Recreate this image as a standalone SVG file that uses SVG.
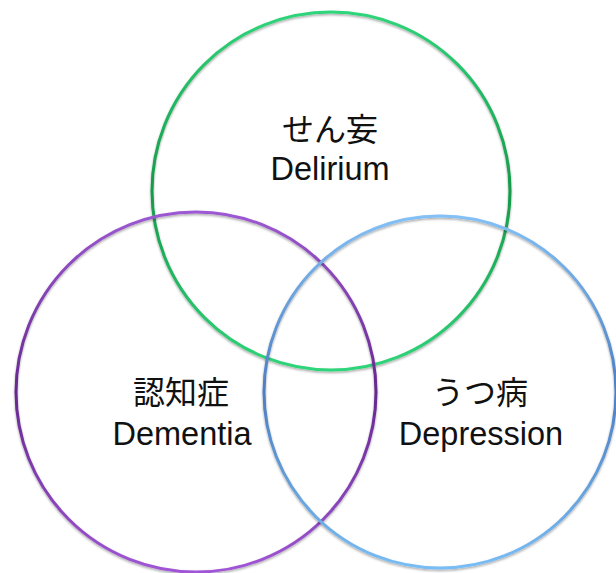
<svg xmlns="http://www.w3.org/2000/svg" width="616" height="573" viewBox="0 0 616 573">
<defs>
<linearGradient id="gG" x1="0" y1="0" x2="0" y2="1">
<stop offset="0" stop-color="#2fd57a"/><stop offset="0.5" stop-color="#17994a"/><stop offset="1" stop-color="#2fd57a"/>
</linearGradient>
<linearGradient id="gP" x1="0" y1="0" x2="0" y2="1">
<stop offset="0" stop-color="#9d58d3"/><stop offset="0.5" stop-color="#66288f"/><stop offset="1" stop-color="#a055d6"/>
</linearGradient>
<linearGradient id="gB" x1="0" y1="0" x2="0" y2="1">
<stop offset="0" stop-color="#82c0f6"/><stop offset="0.5" stop-color="#4d7ec0"/><stop offset="1" stop-color="#78bdf5"/>
</linearGradient>
<filter id="sh" x="-10%" y="-10%" width="120%" height="120%">
<feDropShadow dx="0" dy="1.5" stdDeviation="1" flood-color="#000" flood-opacity="0.35"/>
</filter>
</defs>
<style>
.c{fill:none;stroke-width:3;filter:url(#sh)}
.t{font-family:"Liberation Sans","Noto Sans CJK JP",sans-serif;font-size:32.5px;fill:#111;text-anchor:middle}
.j{font-family:"Noto Sans CJK JP",sans-serif;font-size:32px;fill:#111;text-anchor:middle}
</style>
<g id="delirium">
<circle class="c" cx="331" cy="191" r="179" stroke="url(#gG)"/>
<text class="j" x="330" y="141">せん妄</text>
<text class="t" x="330" y="180">Delirium</text>
</g>
<g id="dementia">
<circle class="c" cx="196" cy="392" r="180" stroke="url(#gP)"/>
<text class="j" x="181" y="404">認知症</text>
<text class="t" x="182" y="445">Dementia</text>
</g>
<g id="depression">
<circle class="c" cx="440" cy="392" r="176" stroke="url(#gB)"/>
<text class="j" x="480" y="404">うつ病</text>
<text class="t" x="481" y="445">Depression</text>
</g>
<g id="connectors"/>
</svg>
